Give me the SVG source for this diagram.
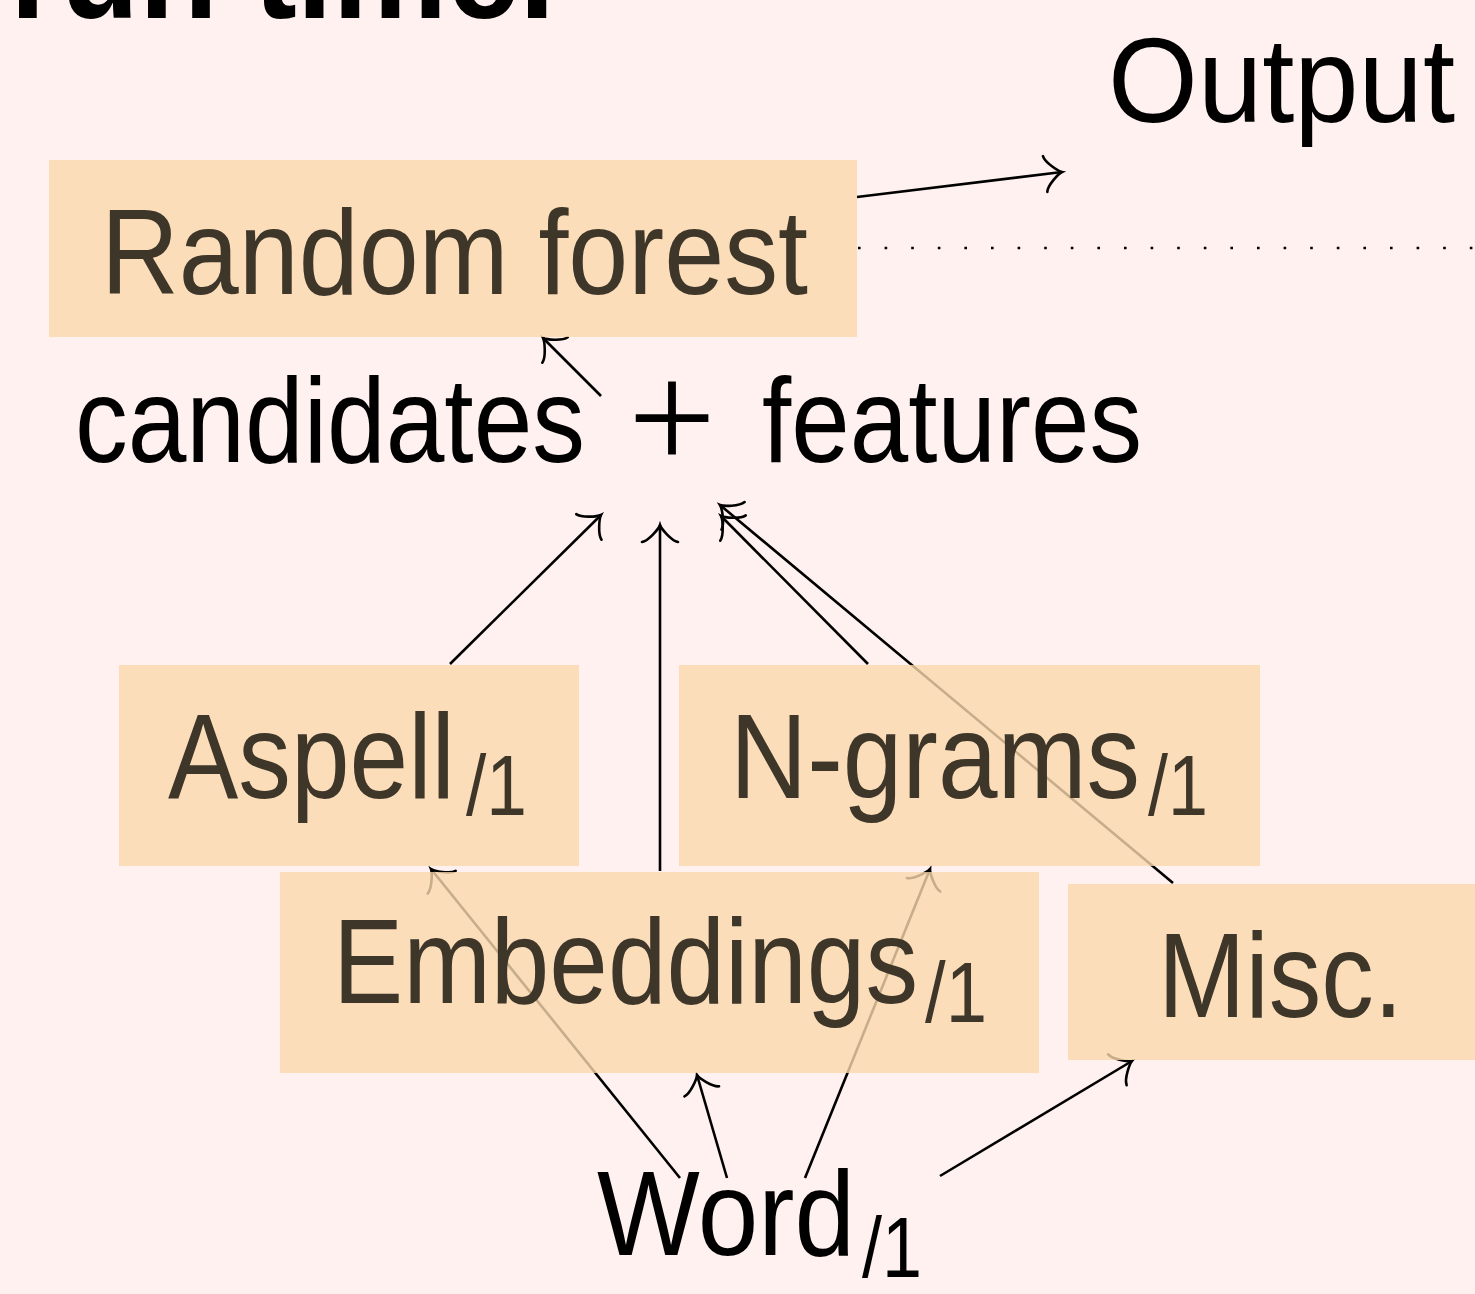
<svg xmlns="http://www.w3.org/2000/svg" width="1475" height="1294" viewBox="0 0 1475 1294">
<style>
.bg{fill:#FEF1F0}
.box{fill:#FAD8AC;fill-opacity:0.8}
.t{font-family:"Liberation Sans",Arial,sans-serif;font-size:120px;fill:#000}
.bt{font-family:"Liberation Sans",Arial,sans-serif;font-size:120px;fill:#3E3629}
.sub{font-family:"Liberation Sans",Arial,sans-serif;font-size:86px}
.plus{font-family:"Liberation Serif","Times New Roman",serif;font-size:156px;fill:#000}
.title{font-family:"Liberation Sans",Arial,sans-serif;font-size:140px;font-weight:bold;fill:#000}
.edge{stroke:#000;stroke-width:2.6;fill:none;marker-end:url(#to)}
.dot{stroke:#000;stroke-width:2.6;fill:none;stroke-dasharray:2.6 24}
</style>
<defs>
<marker id="to" markerUnits="userSpaceOnUse" orient="auto" overflow="visible" markerWidth="1" markerHeight="1" refX="0" refY="0">
<path d="M -17 -18 C -15.8 -11.2 -3.4 -1.1 0 0 C -3.4 1.1 -15.8 11.2 -17 18" fill="none" stroke="#000" stroke-width="2.6" stroke-linecap="round"/>
</marker>
</defs>
<rect class="bg" x="0" y="0" width="1475" height="1294"/>
<text class="title" x="10" y="18" textLength="545" lengthAdjust="spacingAndGlyphs">run time.</text>
<g id="connectors">
<line class="edge" x1="857" y1="197" x2="1062" y2="172"/>
<line class="dot" x1="858" y1="248" x2="1475" y2="248"/>
<line class="edge" x1="601" y1="396" x2="543" y2="338"/>
<line class="edge" x1="450" y1="664" x2="601" y2="515"/>
<line class="edge" x1="660" y1="871" x2="660" y2="525"/>
<line class="edge" x1="868" y1="664" x2="721" y2="516"/>
<line class="edge" x1="1173" y1="883" x2="720" y2="505"/>
<line class="edge" x1="680" y1="1178" x2="431" y2="869"/>
<line class="edge" x1="805" y1="1178" x2="930" y2="869"/>
<line class="edge" x1="727" y1="1178" x2="697" y2="1075"/>
<line class="edge" x1="940" y1="1176" x2="1132" y2="1061"/>
</g>
<g id="output">
<text class="t" x="1108" y="122" textLength="347" lengthAdjust="spacingAndGlyphs">Output</text>
</g>
<g id="random-forest">
<rect class="box" x="49" y="160" width="808" height="177"/>
<text class="bt" x="101" y="294" textLength="707" lengthAdjust="spacingAndGlyphs">Random forest</text>
</g>
<g id="candidates-features">
<text class="t" x="75" y="462" textLength="510" lengthAdjust="spacingAndGlyphs">candidates</text>
<text class="plus" x="672" y="470" text-anchor="middle">+</text>
<text class="t" x="762" y="462" textLength="380" lengthAdjust="spacingAndGlyphs">features</text>
</g>
<g id="aspell">
<rect class="box" x="119" y="665" width="460" height="201"/>
<text class="bt" x="168" y="798" textLength="287" lengthAdjust="spacingAndGlyphs">Aspell</text>
<text class="bt sub" x="466" y="815" textLength="61" lengthAdjust="spacingAndGlyphs">/1</text>
</g>
<g id="ngrams">
<rect class="box" x="679" y="665" width="581" height="201"/>
<text class="bt" x="730" y="798" textLength="410" lengthAdjust="spacingAndGlyphs">N-grams</text>
<text class="bt sub" x="1148" y="815" textLength="60" lengthAdjust="spacingAndGlyphs">/1</text>
</g>
<g id="embeddings">
<rect class="box" x="280" y="872" width="759" height="201"/>
<text class="bt" x="333" y="1003" textLength="585" lengthAdjust="spacingAndGlyphs">Embeddings</text>
<text class="bt sub" x="925" y="1022" textLength="62" lengthAdjust="spacingAndGlyphs">/1</text>
</g>
<g id="misc">
<rect class="box" x="1068" y="884" width="407" height="176"/>
<text class="bt" x="1158" y="1017" textLength="245" lengthAdjust="spacingAndGlyphs">Misc.</text>
</g>
<g id="word">
<text class="t" x="597" y="1255" textLength="258" lengthAdjust="spacingAndGlyphs">Word</text>
<text class="t sub" x="862" y="1277" textLength="60" lengthAdjust="spacingAndGlyphs">/1</text>
</g>
</svg>
